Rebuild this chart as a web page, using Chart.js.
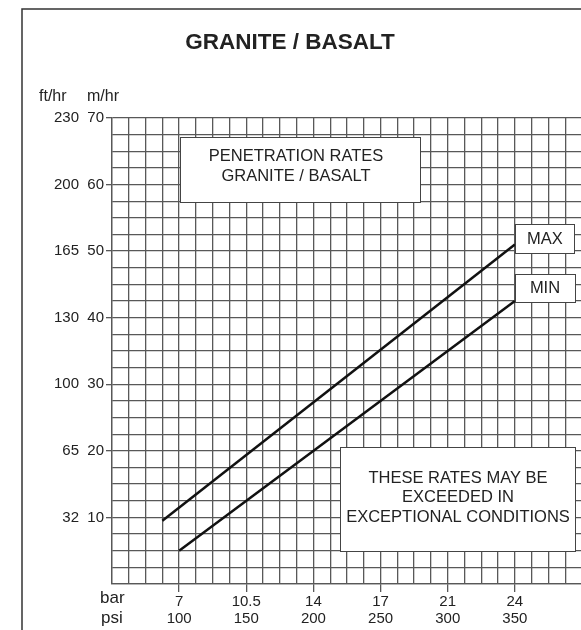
<!DOCTYPE html>
<html lang="en">
<head>
<meta charset="UTF-8">
<title>Granite / Basalt</title>
<style>
  html, body { margin: 0; padding: 0; background: #fff; overflow: hidden; }
  #wrap { position: relative; width: 590px; height: 630px; }
</style>
</head>
<body>
<div id="wrap">
  <canvas id="rates" width="590" height="630"></canvas>
</div>
<script src="https://cdn.jsdelivr.net/npm/chart.js"></script>
<script>
  // rate scale (m/hr) with the matching ft/hr labels
  const mTicks = [10, 20, 30, 40, 50, 60, 70];
  const ftTicks = [32, 65, 100, 130, 165, 200, 230];

  // pressure scale: psi positions and matching bar labels
  const psiTicks = [100, 150, 200, 250, 300, 350];
  const barTicks = ['7', '10.5', '14', '17', '21', '24'];

  // penetration rate lines (psi -> m/hr)
  const maxPsi = [87.5, 350];
  const maxRate = [9.5, 51];
  const minPsi = [100, 350];
  const minRate = [5, 42.5];

  const FONT = '"Liberation Sans", Arial, sans-serif';
  const INK = '#222';
  const GRID = '#585858';

  const toPoints = (xs, ys) => xs.map((x, i) => ({ x, y: ys[i] }));

  function textBox(ctx, x, y, w, h, lines, cx, firstY, step) {
    ctx.fillStyle = '#fff';
    ctx.fillRect(x, y, w, h);
    ctx.strokeStyle = '#444';
    ctx.lineWidth = 1;
    ctx.strokeRect(x + 0.5, y + 0.5, w, h);
    ctx.fillStyle = INK;
    ctx.font = '16.5px ' + FONT;
    ctx.textAlign = 'center';
    ctx.textBaseline = 'middle';
    lines.forEach((t, i) => ctx.fillText(t, cx, firstY + i * step));
  }

  const decorations = {
    id: 'decorations',
    beforeDraw(chart) {
      const ctx = chart.ctx;
      ctx.save();
      ctx.fillStyle = '#fff';
      ctx.fillRect(0, 0, chart.width, chart.height);
      ctx.restore();
    },
    afterDraw(chart) {
      const ctx = chart.ctx;
      ctx.save();
      // frame
      ctx.strokeStyle = '#333';
      ctx.lineWidth = 1.5;
      ctx.strokeRect(22, 9, 700, 700);

      // heading
      ctx.fillStyle = INK;
      ctx.textBaseline = 'middle';
      ctx.textAlign = 'center';
      ctx.font = 'bold 22.5px ' + FONT;
      ctx.fillText('GRANITE / BASALT', 290, 43);

      // unit captions
      ctx.font = '16px ' + FONT;
      ctx.textAlign = 'left';
      ctx.fillText('ft/hr', 39, 97);
      ctx.fillText('m/hr', 87, 97);
      ctx.font = '17px ' + FONT;
      ctx.fillText('bar', 100, 598);
      ctx.fillText('psi', 101, 618);

      // notes on the grid
      textBox(ctx, 180, 137, 240, 65, ['PENETRATION RATES', 'GRANITE / BASALT'], 296, 156, 20);
      textBox(ctx, 515, 224, 59, 29, ['MAX'], 545, 239, 0);
      textBox(ctx, 515, 274, 60, 28, ['MIN'], 545, 288, 0);
      textBox(ctx, 340, 447, 235, 104,
        ['THESE RATES MAY BE', 'EXCEEDED IN', 'EXCEPTIONAL CONDITIONS'], 458, 478, 19.5);
      ctx.restore();
    }
  };

  const lineStyle = {
    borderColor: '#111',
    borderWidth: 2.5,
    pointRadius: 0,
    fill: false,
    tension: 0
  };

  new Chart(document.getElementById('rates'), {
    type: 'line',
    data: {
      datasets: [
        Object.assign({ label: 'MAX', data: toPoints(maxPsi, maxRate) }, lineStyle),
        Object.assign({ label: 'MIN', data: toPoints(minPsi, minRate) }, lineStyle)
      ]
    },
    options: {
      responsive: false,
      animation: false,
      layout: { padding: { top: 118, left: 0, right: 8, bottom: 0 } },
      plugins: {
        legend: { display: false },
        tooltip: { enabled: false }
      },
      scales: {
        x: {
          type: 'linear',
          min: 50,
          max: 400,
          afterFit: s => { s.height = 46; },
          border: { color: GRID, width: 1.3 },
          grid: {
            color: GRID,
            lineWidth: 1.3,
            tickLength: 8,
            tickColor: c => psiTicks.includes(c.tick && c.tick.value) ? GRID : 'rgba(0,0,0,0)'
          },
          ticks: {
            stepSize: 12.5,
            autoSkip: false,
            maxRotation: 0,
            padding: 1,
            color: INK,
            font: { family: FONT, size: 15, lineHeight: 1.15 },
            callback: v => {
              const i = psiTicks.indexOf(v);
              return i < 0 ? '' : [barTicks[i], String(psiTicks[i])];
            }
          }
        },
        y: {
          type: 'linear',
          position: 'left',
          weight: 0,
          min: 0,
          max: 70,
          afterFit: s => { s.width = 28; },
          border: { color: GRID, width: 1.3 },
          grid: {
            color: GRID,
            lineWidth: 1.3,
            tickLength: 6,
            tickColor: c => mTicks.includes(c.tick && c.tick.value) ? GRID : 'rgba(0,0,0,0)'
          },
          ticks: {
            stepSize: 2.5,
            autoSkip: false,
            padding: 2,
            color: INK,
            font: { family: FONT, size: 15 },
            callback: v => mTicks.includes(v) ? String(v) : ''
          }
        },
        yFt: {
          type: 'linear',
          position: 'left',
          weight: 1,
          min: 0,
          max: 70,
          afterFit: s => { s.width = 84; },
          border: { display: false },
          grid: { display: false, drawTicks: false },
          ticks: {
            stepSize: 2.5,
            autoSkip: false,
            padding: 5,
            color: INK,
            font: { family: FONT, size: 15 },
            callback: v => {
              const i = mTicks.indexOf(v);
              return i < 0 ? '' : String(ftTicks[i]);
            }
          }
        }
      }
    },
    plugins: [decorations]
  });
</script>
</body>
</html>
